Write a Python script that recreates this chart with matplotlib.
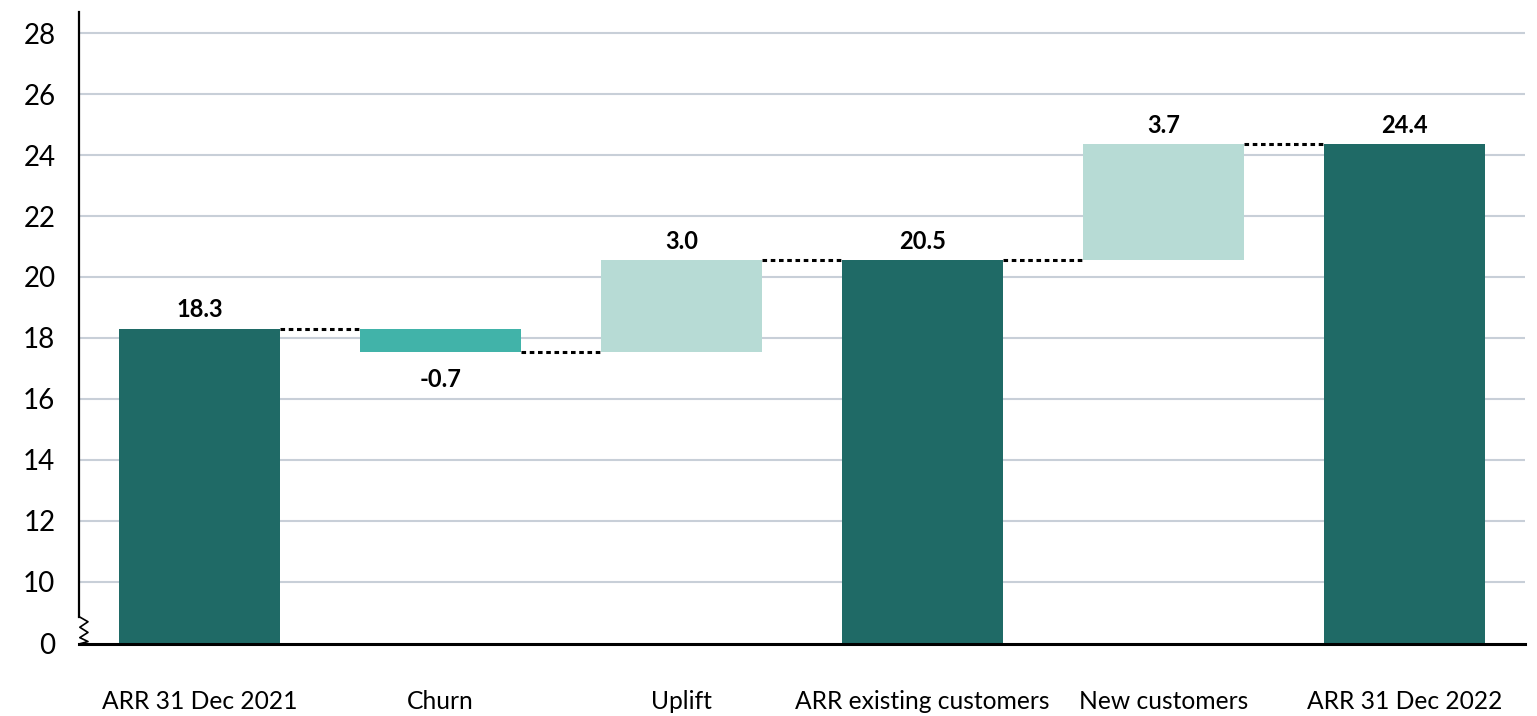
import numpy as np
import matplotlib.pyplot as plt
from matplotlib.transforms import blended_transform_factory

plt.rcParams['font.family'] = ['Lato', 'DejaVu Sans']

# data
categories = ["ARR 31 Dec 2021", "Churn", "Uplift", "ARR existing customers",
              "New customers", "ARR 31 Dec 2022"]
changes = [18.3, -0.75, 3.0, None, 3.8, None]   # None = running total bar
value_labels = ["18.3", "-0.7", "3.0", "20.5", "3.7", "24.4"]
is_total = [True, False, False, True, False, True]
yticks = [10, 12, 14, 16, 18, 20, 22, 24, 26, 28]

DARK = "#1f6a66"
NEG = "#41b3a9"
POS = "#b7dbd5"
GRID = "#c8cfd8"
FLOOR = 7.95  # broken axis: this position is shown as "0"

# compute bar bottoms / tops
bottoms, tops = [], []
running = 0
for i, c in enumerate(changes):
    if is_total[i]:
        if c is not None:
            running = c
        bottoms.append(FLOOR)
        tops.append(running)
    else:
        start = running
        running = running + c
        bottoms.append(min(start, running))
        tops.append(max(start, running))

fig = plt.figure(figsize=(15.37, 7.16), dpi=100)
ax = fig.add_axes([79 / 1537, (716 - 644) / 716, (1525 - 79) / 1537, (644 - 12) / 716])

x = np.arange(len(categories))
w = 0.67
colors = []
for i, c in enumerate(changes):
    if is_total[i]:
        colors.append(DARK)
    elif c < 0:
        colors.append(NEG)
    else:
        colors.append(POS)

for yv in yticks:
    ax.axhline(yv, color=GRID, lw=1.5, zorder=0)

ax.bar(x, np.array(tops) - np.array(bottoms), bottom=bottoms, width=w,
       color=colors, zorder=2)

# dotted connectors
ends = []
running = 0
for i, c in enumerate(changes):
    if is_total[i] and c is not None:
        running = c
    elif not is_total[i]:
        running += c
    ends.append(running)
for i in range(len(x) - 1):
    ax.plot([x[i] + w / 2, x[i + 1] - w / 2], [ends[i], ends[i]], color="black",
            lw=2.2, dashes=(1.5, 1.2), zorder=3, solid_capstyle="butt",
            dash_capstyle="butt")

# value labels
for i in range(len(x)):
    if not is_total[i] and changes[i] < 0:
        ax.text(x[i], bottoms[i] - 0.55, value_labels[i], ha="center", va="top",
                fontsize=17, fontweight="bold")
    else:
        ax.text(x[i], tops[i] + 0.25, value_labels[i], ha="center", va="bottom",
                fontsize=17, fontweight="bold")

ax.set_xlim(-0.5, 5.5)
ax.set_ylim(FLOOR, 28.7)
ax.set_yticks([FLOOR] + yticks)
ax.set_yticklabels(["0"] + [str(t) for t in yticks])
ax.set_xticks(x)
ax.set_xticklabels(categories)
ax.tick_params(axis="y", length=0, pad=17, labelsize=20)
ax.tick_params(axis="x", length=0, pad=33, labelsize=17.7)

for s in ["top", "right"]:
    ax.spines[s].set_visible(False)
ax.spines["left"].set_linewidth(1.6)
ax.spines["left"].set_bounds(8.85, 28.7)
ax.spines["bottom"].set_linewidth(2.2)

# axis break zigzag
tr = blended_transform_factory(ax.transAxes, ax.transData)
dx = 9 / 1446
zx = [0, dx, 0.8 / 1446, dx, 0.8 / 1446, dx, 0]
zy = [8.85, 8.68, 8.5, 8.33, 8.16, 8.03, FLOOR]
ax.plot(zx, zy, color="black", lw=1.2, transform=tr, clip_on=False, zorder=4)

fig.savefig("out.png", dpi=100)
